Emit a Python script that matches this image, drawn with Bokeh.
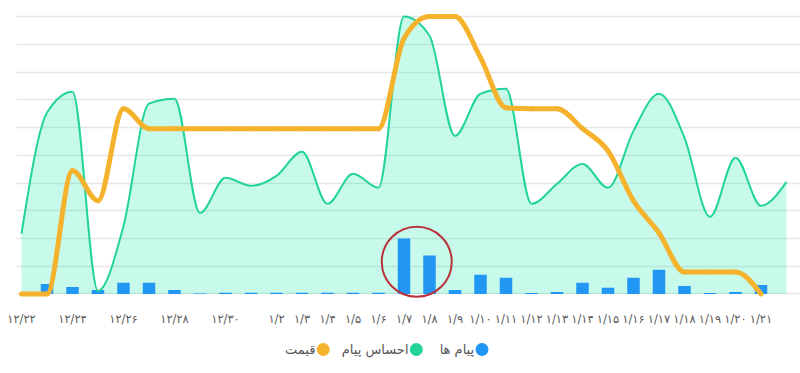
import numpy as np
from bokeh.plotting import figure
from bokeh.layouts import column
from bokeh.models import Range1d, FixedTicker
from bokeh.core.properties import value
from bokeh.embed import file_html
from bokeh.resources import INLINE

# ---------------- data ----------------
dates = ["۱۲/۲۲", "۱۲/۲۳", "۱۲/۲۴", "۱۲/۲۵", "۱۲/۲۶", "۱۲/۲۷", "۱۲/۲۸", "۱۲/۲۹", "۱۲/۳۰",
         "۱/۱", "۱/۲", "۱/۳", "۱/۴", "۱/۵", "۱/۶", "۱/۷", "۱/۸", "۱/۹", "۱/۱۰", "۱/۱۱",
         "۱/۱۲", "۱/۱۳", "۱/۱۴", "۱/۱۵", "۱/۱۶", "۱/۱۷", "۱/۱۸", "۱/۱۹", "۱/۲۰", "۱/۲۱", "۱/۲۲"]
shown_ticks = [0, 2, 4, 6, 8] + list(range(10, 30))

messages = [0, 3.6, 2.5, 1.4, 4.0, 4.0, 1.4, 0.2, 0.4, 0.4, 0.4, 0.4, 0.4, 0.4, 0.4,
            20.0, 13.9, 1.4, 6.9, 5.8, 0.3, 0.7, 4.0, 2.2, 5.8, 8.7, 2.9, 0.3, 0.7, 3.2, 0]
sentiment = [21.7, 65.3, 72.9, 1.1, 24.5, 68.6, 70.4, 29.2, 41.9, 39.0, 42.6, 51.3, 32.5,
             43.3, 38.3, 100.0, 93.1, 57.0, 72.2, 74.0, 32.5, 39.7, 46.9, 38.3, 58.8, 72.2,
             56.3, 27.8, 49.1, 31.8, 40.4]
price = [0, 0, 44.4, 33.6, 66.8, 59.6, 59.6, 59.6, 59.6, 59.6, 59.6, 59.6, 59.6, 59.6, 59.6,
         92.1, 100.0, 100.0, 85.2, 67.1, 66.8, 66.8, 59.6, 51.6, 33.6, 22.0, 7.9, 7.9, 7.9, 0]
highlight = [15, 16]

legend_labels = ["پیام ها", "احساس پیام", "قیمت"]

BLUE = "#2196f3"
GREEN = "#22d39a"
AREA = "#23ebaf"
ORANGE = "#f5b22c"
FONT = "DejaVu Sans"


# ------------- monotone-x curve (render geometry only) -------------
def monotone_segments(x, y):
    x = np.asarray(x, float)
    y = np.asarray(y, float)
    n = len(x)
    h = np.diff(x)
    s = np.diff(y) / h
    m = np.zeros(n)
    for i in range(1, n - 1):
        h0, h1 = h[i - 1], h[i]
        s0, s1 = s[i - 1], s[i]
        p = (s0 * h1 + s1 * h0) / (h0 + h1)
        m[i] = (np.sign(s0) + np.sign(s1)) * min(abs(s0), abs(s1), 0.5 * abs(p))
    m[0] = (3 * s[0] - m[1]) / 2
    m[-1] = (3 * s[-1] - m[-2]) / 2
    x0, x1 = x[:-1], x[1:]
    y0, y1 = y[:-1], y[1:]
    cx0 = x0 + h / 3
    cy0 = y0 + m[:-1] * h / 3
    cx1 = x1 - h / 3
    cy1 = y1 - m[1:] * h / 3
    return dict(x0=x0, y0=y0, x1=x1, y1=y1, cx0=cx0, cy0=cy0, cx1=cx1, cy1=cy1)


def sample_segments(seg, k=24):
    t = np.linspace(0, 1, k)[None, :]
    def b(a, c0, c1, d):
        return ((1 - t) ** 3) * a[:, None] + 3 * ((1 - t) ** 2) * t * c0[:, None] \
            + 3 * (1 - t) * t ** 2 * c1[:, None] + t ** 3 * d[:, None]
    xs = b(seg["x0"], seg["cx0"], seg["cx1"], seg["x1"]).ravel()
    ys = b(seg["y0"], seg["cy0"], seg["cy1"], seg["y1"]).ravel()
    return xs, ys


# ---------------- main chart ----------------
p = figure(width=800, height=333, output_backend="svg", toolbar_location=None,
           x_range=Range1d(-0.196, 30.549), y_range=Range1d(-2, 102.2),
           min_border_left=16, min_border_right=0, min_border_top=10, min_border_bottom=34)
p.outline_line_color = None
p.background_fill_color = "white"
p.border_fill_color = "white"
p.xgrid.visible = False
p.yaxis.visible = False
p.ygrid.ticker = FixedTicker(ticks=list(range(0, 101, 10)))
p.ygrid.grid_line_color = "#e6e6e6"
p.ygrid.grid_line_width = 1.5

xi = np.arange(len(sentiment))
seg_s = monotone_segments(xi, sentiment)
sx, sy = sample_segments(seg_s)
p.varea(x=sx, y1=0, y2=sy, fill_color=AREA, fill_alpha=0.25)

p.vbar(x=np.arange(len(messages)), top=messages, width=0.49, fill_color=BLUE, line_color=None)

p.bezier(line_color=GREEN, line_width=2, **seg_s)

seg_p = monotone_segments(np.arange(len(price)), price)
p.bezier(line_color=ORANGE, line_width=5, line_cap="round", line_join="round", **seg_p)

cx = float(np.mean(highlight))
cy = max(messages[i] for i in highlight) * 0.58
p.scatter(x=[cx], y=[cy], size=70, fill_color=None, line_color="#b8323b", line_width=2)

p.xaxis.ticker = FixedTicker(ticks=shown_ticks)
p.xaxis.major_label_overrides = {i: dates[i] for i in shown_ticks}
p.xaxis.axis_line_color = None
p.xaxis.major_tick_line_color = None
p.xaxis.minor_tick_line_color = None
p.xaxis.major_label_standoff = 6
p.xaxis.major_label_text_font = FONT
p.xaxis.major_label_text_font_size = "11.5px"
p.xaxis.major_label_text_color = "#5a5a5a"

# ---------------- legend (RTL) ----------------
lg = figure(width=800, height=32, output_backend="svg", toolbar_location=None,
            x_range=Range1d(0, 800), y_range=Range1d(0, 32), min_border=0)
lg.axis.visible = False
lg.grid.visible = False
lg.outline_line_color = None
lg.border_fill_color = "white"

legend_colors = [BLUE, GREEN, ORANGE]
legend_cx = [475, 408, 313]
lg.scatter(x=legend_cx, y=[16] * 3, size=13, fill_color=legend_colors, line_color=None)
lg.text(x=[c - 8 for c in legend_cx], y=[16] * 3, text=legend_labels,
        text_align="right", text_baseline="middle", text_font=value(FONT),
        text_font_size="13px", text_color="#555555")

layout = column(p, lg)
open("out.html", "w").write(file_html(layout, INLINE))
